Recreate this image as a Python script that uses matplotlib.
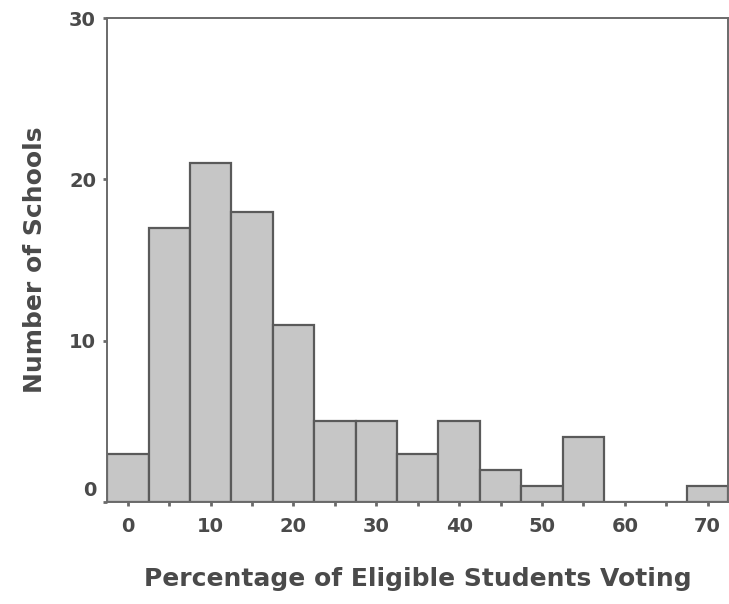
import matplotlib.pyplot as plt
import matplotlib.transforms as mtransforms

# bin centers (percent) and number of schools in each bin
centers = [0, 5, 10, 15, 20, 25, 30, 35, 40, 45, 50, 55, 60, 65, 70]
counts = [3, 17, 21, 18, 11, 5, 5, 3, 5, 2, 1, 4, 0, 0, 1]
xticks = [0, 10, 20, 30, 40, 50, 60, 70]
yticks = [0, 10, 20, 30]

plt.rcParams['font.family'] = ['DejaVu Sans']
plt.rcParams['font.weight'] = 'bold'
plt.rcParams['axes.labelweight'] = 'bold'

fig = plt.figure(figsize=(7.29, 6.04), dpi=100)
ax = fig.add_axes([0.147, 0.169, 0.852, 0.801])

ax.bar(centers, counts, width=5, color='#c6c6c6', edgecolor='#5a5a5a', linewidth=1.6)

ax.set_xlim(-2.5, 72.5)
ax.set_ylim(0, 30)
ax.set_xticks(xticks)
ax.set_yticks(yticks)
ax.set_xticks(centers, minor=True)

for s in ax.spines.values():
    s.set_color('#6a6a6a')
    s.set_linewidth(1.4)

ax.tick_params(axis='both', which='both', length=3, width=2, color='#6a6a6a',
               labelsize=14, labelcolor='#4a4a4a')
ax.tick_params(axis='x', which='major', pad=8)
ax.tick_params(axis='y', pad=5)

# the zero label sits a bit above the axis in the original
lab0 = ax.get_yticklabels()[0]
lab0.set_transform(lab0.get_transform() + mtransforms.ScaledTranslation(0, 10 / 72, fig.dpi_scale_trans))

ax.set_xlabel('Percentage of Eligible Students Voting', fontsize=18, color='#4a4a4a',
              labelpad=22)
ax.set_ylabel('Number of Schools', fontsize=18, color='#4a4a4a', labelpad=16)

fig.savefig('out.png', dpi=100)
